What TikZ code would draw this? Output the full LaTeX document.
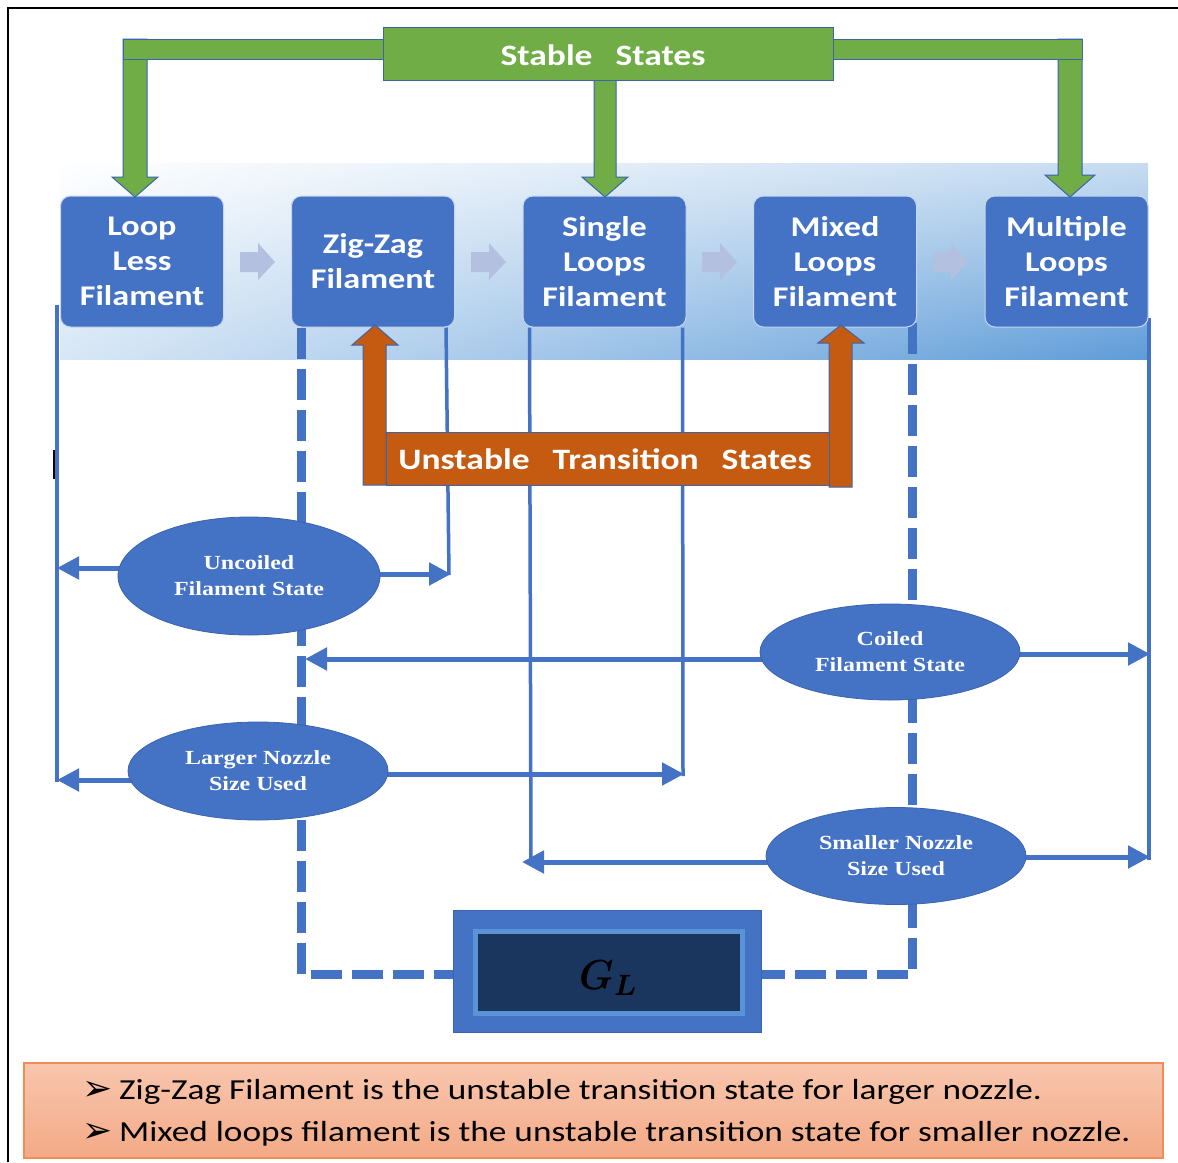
\documentclass[tikz,border=0pt]{standalone}
\usepackage{fontspec}
\usepackage{amsmath}
\usetikzlibrary{shapes.geometric,arrows.meta,calc,shadings}
\newfontfamily\cfont[FakeStretch=1.2]{Carlito}
\newfontfamily\nfont[FakeStretch=1.217]{Carlito}
\newfontfamily\tfont[FakeStretch=1.2]{Liberation Serif}
\newfontfamily\dfont{DejaVu Sans}
\definecolor{bblue}{HTML}{4472C4}
\definecolor{bgreen}{HTML}{70AD47}
\definecolor{borange}{HTML}{C55A11}
\definecolor{edgec}{HTML}{3B64AD}
\definecolor{larrow}{HTML}{B4C0E0}
\definecolor{gband}{HTML}{5B93D8}
\definecolor{gdark}{HTML}{1A365F}
\definecolor{salmonT}{HTML}{F8C6AE}
\definecolor{salmonB}{HTML}{F3AA86}
\definecolor{salmonE}{HTML}{F08C55}
\definecolor{bandTR}{HTML}{C6DCF1}
\definecolor{bandBL}{HTML}{D8E7F6}
\definecolor{bandBR}{HTML}{5E9CD8}
\pgfdeclarelayer{bg}
\pgfdeclarelayer{lines}
\pgfsetlayers{bg,lines,main}
\begin{document}
\begin{tikzpicture}[x=1pt,y=-1pt,
  statebox/.style={rounded corners=10pt, fill=bblue, draw=white!70!bblue, line width=1pt,
    minimum width=163pt, minimum height=131pt, text=white, align=center, inner sep=0pt,
    font=\cfont\bfseries\fontsize{28.5}{35}\selectfont},
  ellnode/.style={ellipse, fill=bblue, draw=edgec, line width=0.8pt, text=white, align=center,
    inner sep=0pt, font=\tfont\bfseries\fontsize{20}{26}\selectfont},
  banner/.style={draw=edgec, line width=1pt, text=white, inner sep=0pt,
    font=\cfont\bfseries\fontsize{29.6}{34}\selectfont},
  fatg/.style={fill=bgreen, draw=edgec, line width=1pt},
  fato/.style={fill=borange, draw=edgec, line width=1pt},
  conn/.style={draw=bblue, line width=5pt, -{Triangle[length=22pt,width=22pt]}},
  vline/.style={draw=bblue, line width=3.5pt},
  dline/.style={draw=bblue, line width=9pt, dash pattern=on 31pt off 10pt},
  ltarrow/.style={fill=larrow},
  notetext/.style={anchor=base west, inner sep=0pt, font=\nfont\fontsize{29}{34}\selectfont}
]
\useasboundingbox (0,0) rectangle (1178,1162);

\begin{pgfonlayer}{bg}
\fill[white] (0,0) rectangle (1178,1162);
% gradient band
\shade[upper left=white, upper right=bandTR, lower left=bandBL, lower right=bandBR]
  (60,163) rectangle (1148,359);
\end{pgfonlayer}

% frame
\draw[black, line width=1.6pt] (8,1162) -- (8,8) -- (1178,8);
\draw[black, line width=1.6pt] (54,450) -- (54,479);

% state boxes
\node[statebox] (b1) at (142,261.5) {Loop\\Less\\Filament};
\node[statebox] (b2) at (373,261.5) {Zig-Zag\\Filament};
\node[statebox] (b3) at (604.5,261.5) {Single\\Loops\\Filament};
\node[statebox] (b4) at (835,261.5) {Mixed\\Loops\\Filament};
\node[statebox] (b5) at (1066.5,261.5) {Multiple\\Loops\\Filament};

% light arrows between boxes
\foreach \dx in {0,231,462,693}{
  \fill[ltarrow, shift={(\dx,0)}] (240,252) -- (258,252) -- (258,243) -- (275,262)
    -- (258,280) -- (258,272) -- (240,272) -- cycle;
}

% green stable states
\draw[fatg] (123,39) -- (123,177) -- (112,177) -- (135,197) -- (158,177) -- (147,177) -- (147,39) -- cycle;
\draw[fatg] (123,39) rectangle (383,59);
\draw[fatg] (1058,39) -- (1058,175) -- (1045,175) -- (1070,197) -- (1095,175) -- (1082,175) -- (1082,39) -- cycle;
\draw[fatg] (833,39) rectangle (1082,59);
\draw[fatg] (594,80) -- (594,177) -- (582,177) -- (605,197) -- (628,177) -- (616,177) -- (616,80) -- cycle;
\node[banner, fill=bgreen, minimum width=450pt, minimum height=53pt] (stab) at (608,54) {};
\node[banner, draw=none, inner sep=0pt] (stabtext) at (603,55) {Stable\hspace{23pt}States};

% orange unstable transition states
\draw[fato] (363,485) -- (363,345) -- (352,345) -- (375,325) -- (398,345) -- (386,345) -- (386,485) -- cycle;
\draw[fato] (829,487) -- (829,343) -- (818,343) -- (841,325) -- (864,343) -- (852,343) -- (852,487) -- cycle;
\node[banner, fill=borange, minimum width=443pt, minimum height=53pt] (unst) at (607.5,458.5) {};
\node[banner, draw=none, inner sep=0pt] (unsttext) at (605,459)
  {Unstable\hspace{23pt}Transition\hspace{23pt}States};

% ellipses
\node[ellnode, minimum width=262pt, minimum height=118pt] (unc) at (249,576) {Uncoiled\\Filament State};
\node[ellnode, minimum width=260pt, minimum height=98pt] (lrg) at (258,771) {Larger Nozzle\\Size Used};
\node[ellnode, minimum width=260pt, minimum height=96pt] (coil) at (890,652) {Coiled\\Filament State};
\node[ellnode, minimum width=260pt, minimum height=97pt] (sml) at (896,856) {Smaller Nozzle\\Size Used};

% G_L box
\node[fill=bblue, draw=edgec, line width=1pt, minimum width=308pt, minimum height=122pt, inner sep=0pt] (gl) at (607,971) {};
\fill[gband] (473,929) rectangle (745,1016);
\fill[gdark] (478,934) rectangle (740,1011);
\node[inner sep=0pt] (gltext) at (609,978)
  {\scalebox{3.9}[4.2]{$\boldsymbol{G_L}$}};

% bottom note
\shade[top color=salmonT, bottom color=salmonB, draw=salmonE, line width=1.5pt] (24,1063) rectangle (1163,1158);
\node[notetext] (n1) at (82,1099)
  {\makebox[37pt][l]{\raisebox{-1pt}{\dfont\fontsize{36}{36}\selectfont ➢}}Zig-Zag Filament is the unstable transition state for larger nozzle.};
\node[notetext] (n2) at (82,1141)
  {\makebox[37pt][l]{\raisebox{-1pt}{\dfont\fontsize{36}{36}\selectfont ➢}}Mixed loops filament is the unstable transition state for smaller nozzle.};

% coordinates for free line ends
\coordinate (v1t) at (57,305);
\coordinate (v1b) at (57,782);
\coordinate (v2b) at (449,575);
\coordinate (v3b) at (531,865);
\coordinate (v4b) at (683,776);
\coordinate (v5t) at (1149,318);
\coordinate (v5b) at (1149,860);
\coordinate (a1) at (57,568);
\coordinate (a2) at (451,574);
\coordinate (a3) at (305,659);
\coordinate (a4) at (1150,654);
\coordinate (a5) at (57,780);
\coordinate (a6) at (684,774);
\coordinate (a7) at (522,862);
\coordinate (a8) at (1150,857);

\begin{pgfonlayer}{lines}
% thin vertical lines
\draw[vline] (v1t) -- (v1b);
\draw[vline] ([xshift=-9pt]b2.south east) -- (v2b);
\draw[vline] ([xshift=7pt]b3.south west) -- (v3b);
\draw[vline] ([xshift=-4pt]b3.south east) -- (v4b);
\draw[vline] (v5t) -- (v5b);
% dashed lines to G_L
\draw[dline] ([xshift=10pt]b2.south west) |- ([yshift=-3pt]gl.west);
\draw[dline] ([xshift=-5pt,yshift=5pt]b4.south east) |- ([yshift=-3pt]gl.east);
% arrows from ellipses
\draw[conn] (unc.center |- a1) -- (a1);
\draw[conn] (unc.center |- a2) -- (a2);
\draw[conn] (coil.center |- a3) -- (a3);
\draw[conn] (coil.center |- a4) -- (a4);
\draw[conn] (lrg.center |- a5) -- (a5);
\draw[conn] (lrg.center |- a6) -- (a6);
\draw[conn] (sml.center |- a7) -- (a7);
\draw[conn] (sml.center |- a8) -- (a8);
\end{pgfonlayer}
\end{tikzpicture}
\end{document}
